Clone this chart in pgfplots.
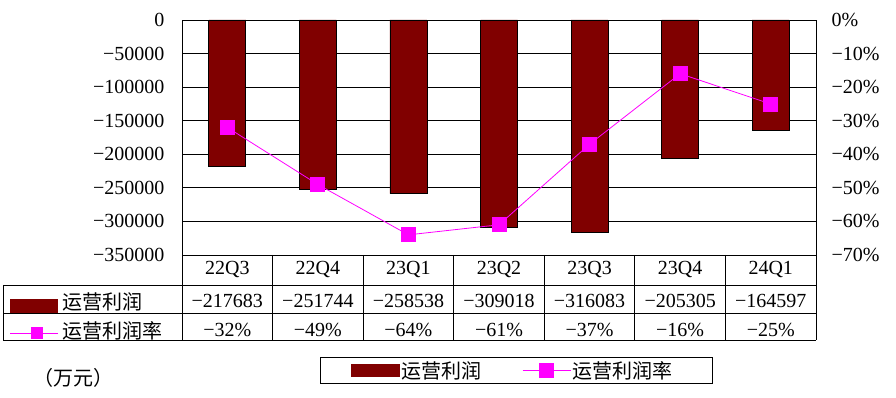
\documentclass[border=0pt]{standalone}
\usepackage{pgfplots}
\pgfplotsset{compat=1.18}
\usepackage{fontspec}
\setmainfont{Liberation Serif}
\newfontfamily\cjk{Noto Sans CJK SC}
\definecolor{barred}{HTML}{800000}
\definecolor{mag}{HTML}{FF00FF}
\newcommand{\fs}{\fontsize{20}{22}\selectfont}
\begin{document}
\begin{tikzpicture}[x=1pt,y=1pt]
\useasboundingbox (0,0) rectangle (896,398);
\begin{axis}[
  at={(182pt,143pt)}, anchor=south west,
  scale only axis, width=634pt, height=235pt,
  xmin=-0.5, xmax=6.5, ymin=-350000, ymax=0,
  scaled y ticks=false,
  ytick={0,-50000,-100000,-150000,-200000,-250000,-300000,-350000},
  yticklabels={0,−50000,−100000,−150000,−200000,−250000,−300000,−350000},
  xtick=\empty,
  ymajorgrids, grid style={black, line width=0.8pt},
  axis line style={black, line width=0.8pt},
  major tick style={draw=none},
  yticklabel style={font=\fs, xshift=-14pt},
]
\addplot[ybar, bar width=37pt, fill=barred, draw=black, line width=0.6pt]
  coordinates {(0,-217683) (1,-251744) (2,-258538) (3,-309018) (4,-316083) (5,-205305) (6,-164597)};
\end{axis}
\begin{axis}[
  at={(182pt,143pt)}, anchor=south west,
  scale only axis, width=634pt, height=235pt,
  xmin=-0.5, xmax=6.5, ymin=-70, ymax=0,
  axis x line=none, axis y line*=right,
  ytick={0,-10,-20,-30,-40,-50,-60,-70},
  yticklabels={0\%,−10\%,−20\%,−30\%,−40\%,−50\%,−60\%,−70\%},
  yticklabel style={font=\fs, anchor=west, xshift=12pt},
  axis line style={black, line width=0.8pt},
  major tick style={draw=none},
  legend columns=2,
  legend style={at={(0.2177,-0.434)}, anchor=north west, draw=black, line width=0.8pt,
    font=\cjk\fs, inner xsep=31pt, inner ysep=3pt,
    /tikz/every even column/.append style={column sep=40pt},
    nodes={inner sep=1pt}},
]
\addlegendimage{legend image code/.code={\fill[barred] (0pt,-6pt) rectangle (48pt,6pt);}}
\addlegendentry{运营利润}
\addplot[mag, line width=0.8pt, mark=square*, mark size=7pt, mark options={fill=mag, draw=mag},
  legend image code/.code={\draw[mag, line width=0.8pt] (0pt,0pt) -- (48pt,0pt); \fill[mag] (17pt,-7pt) rectangle (31pt,7pt);}]
  coordinates {(0,-32) (1,-49) (2,-64) (3,-61) (4,-37) (5,-16) (6,-25)};
\addlegendentry{运营利润率\kern8pt\null}
\end{axis}
% data table
\begin{scope}[line width=0.8pt]
\draw (3,113) -- (816,113);
\draw (3,85) -- (816,85);
\draw (3,58) -- (816,58);
\draw (3,113) -- (3,58);
\foreach \k in {0,...,7} { \draw ({182+\k*90.571},143) -- ({182+\k*90.571},58); }
\end{scope}
\foreach \lab [count=\i from 0] in {22Q3,22Q4,23Q1,23Q2,23Q3,23Q4,24Q1} {
  \node[font=\fs, inner sep=0pt] at ({182+(\i+0.5)*90.571},128) {\lab};
}
\foreach \lab [count=\i from 0] in {−217683,−251744,−258538,−309018,−316083,−205305,−164597} {
  \node[font=\fs, inner sep=0pt] at ({182+(\i+0.5)*90.571},97) {\lab};
}
\foreach \lab [count=\i from 0] in {−32\%,−49\%,−64\%,−61\%,−37\%,−16\%,−25\%} {
  \node[font=\fs, inner sep=0pt] at ({182+(\i+0.5)*90.571},68) {\lab};
}
\fill[barred] (10,85) rectangle (58,99);
\node[font=\cjk\fs, anchor=west, inner sep=0pt] at (62,96) {运营利润};
\draw[mag, line width=0.8pt] (10,65) -- (58,65);
\fill[mag] (31,59) rectangle (43,71);
\node[font=\cjk\fs, anchor=west, inner sep=0pt] at (62,67) {运营利润率};
\node[font=\cjk\fs, anchor=west, inner sep=0pt] at (33,20) {（万元）};
\end{tikzpicture}
\end{document}
